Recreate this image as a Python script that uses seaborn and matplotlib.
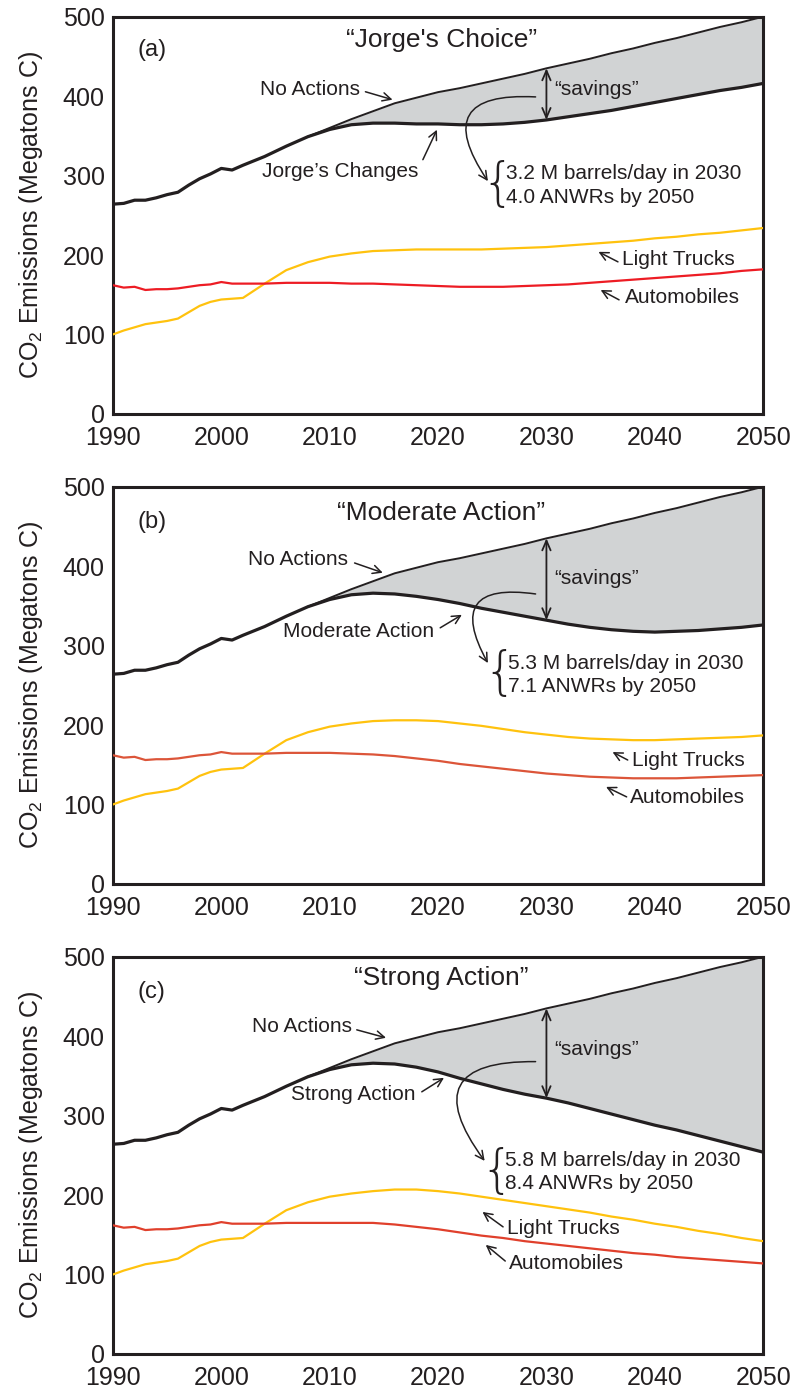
import numpy as np
import pandas as pd
import matplotlib
matplotlib.use("Agg")
import matplotlib.pyplot as plt
import seaborn as sns

# shared history (1990-2008)
HIST_YEARS = [1990, 1991, 1992, 1993, 1994, 1995, 1996, 1997, 1998, 1999,
              2000, 2001, 2002, 2004, 2006, 2008]
HIST_TOTAL = [264, 265, 269, 269, 272, 276, 279, 288, 296, 302,
              309, 307, 313, 324, 337, 349]
HIST_TRUCKS = [100, 105, 109, 113, 115, 117, 120, 128, 136, 141,
               144, 145, 146, 164, 181, 191]
HIST_AUTOS = [162, 159, 160, 156, 157, 157, 158, 160, 162, 163,
              166, 164, 164, 164, 165, 165]

# projections (2010-2050)
PROJ_YEARS = [2010, 2012, 2014, 2016, 2018, 2020, 2022, 2024, 2026, 2028, 2030,
              2032, 2034, 2036, 2038, 2040, 2042, 2044, 2046, 2048, 2050]
NO_ACTIONS = [360, 371, 381, 391, 398, 405, 410, 416, 422, 428, 435,
              441, 447, 454, 460, 467, 473, 480, 487, 493, 500]
JORGE = [358, 364, 366, 366, 365, 365, 364, 364, 365, 367, 370,
         374, 378, 382, 387, 392, 397, 402, 407, 411, 416]
MODERATE = [358, 364, 366, 365, 362, 358, 353, 347, 342, 337, 332,
            327, 323, 320, 318, 317, 318, 319, 321, 323, 326]
STRONG = [358, 364, 366, 365, 361, 355, 347, 340, 333, 327, 322,
          316, 309, 302, 295, 288, 282, 275, 268, 261, 254]
TRUCKS_A = [198, 202, 205, 206, 207, 207, 207, 207, 208, 209, 210,
            212, 214, 216, 218, 221, 223, 226, 228, 231, 234]
TRUCKS_B = [198, 202, 205, 206, 206, 205, 202, 199, 195, 191, 188,
            185, 183, 182, 181, 181, 182, 183, 184, 185, 187]
TRUCKS_C = [198, 202, 205, 207, 207, 205, 202, 198, 194, 190, 186,
            182, 178, 173, 169, 164, 160, 155, 151, 146, 142]
AUTOS_A = [165, 164, 164, 163, 162, 161, 160, 160, 160, 161, 162,
           163, 165, 167, 169, 171, 173, 175, 177, 180, 182]
AUTOS_B = [165, 164, 163, 161, 158, 155, 151, 148, 145, 142, 139,
           137, 135, 134, 133, 133, 133, 134, 135, 136, 137]
AUTOS_C = [165, 165, 165, 163, 160, 157, 153, 149, 146, 142, 139,
           136, 133, 130, 127, 125, 122, 120, 118, 116, 114]

INK = "#231f20"
YELLOW = "#ffc20e"
GRAY = "#d1d3d4"

sns.set_style("white")
plt.rcParams["font.family"] = ["Liberation Sans", "DejaVu Sans"]
plt.rcParams["mathtext.default"] = "regular"

ANNOT = dict(fontsize=15, color=INK)
ARROW = dict(arrowstyle="->,head_length=0.6,head_width=0.3", lw=1.1,
             color=INK, shrinkA=0, shrinkB=0)


def series(hist, proj):
    return pd.DataFrame({"year": HIST_YEARS + PROJ_YEARS, "value": hist + proj})


def label(ax, text, txt_pos, arrow, ha="left"):
    ax.text(txt_pos[0], txt_pos[1], text, ha=ha, va="center", **ANNOT)
    ax.annotate("", xy=arrow[1], xytext=arrow[0], arrowprops=ARROW)


def draw_panel(ax, tag, title, scenario, name, trucks, autos, red, pos):
    years = np.array(HIST_YEARS[-1:] + PROJ_YEARS)
    upper = np.array(HIST_TOTAL[-1:] + NO_ACTIONS)
    lower = np.array(HIST_TOTAL[-1:] + scenario)
    ax.fill_between(years, lower, upper, color=GRAY, lw=0, zorder=1)

    sns.lineplot(data=series(HIST_TRUCKS, trucks), x="year", y="value",
                 ax=ax, color=YELLOW, lw=1.6, zorder=3)
    sns.lineplot(data=series(HIST_AUTOS, autos), x="year", y="value",
                 ax=ax, color=red, lw=1.6, zorder=3)
    sns.lineplot(x=years, y=upper, ax=ax, color=INK, lw=1.4, zorder=4)
    sns.lineplot(data=series(HIST_TOTAL, scenario), x="year", y="value",
                 ax=ax, color=INK, lw=2.3, zorder=5)

    ax.set_xlim(1990, 2050)
    ax.set_ylim(0, 500)
    ax.set_xticks(range(1990, 2051, 10))
    ax.set_xticks(range(1995, 2050, 10), minor=True)
    ax.set_yticks(range(0, 501, 100))
    ax.set_yticks(range(50, 500, 100), minor=True)
    ax.tick_params(which="both", direction="in", colors=INK,
                   labelsize=18, top=False, right=False, width=2)
    ax.tick_params(which="major", length=11.5)
    ax.tick_params(which="minor", length=7.5)
    ax.tick_params(axis="x", pad=9)
    ax.tick_params(axis="y", pad=6)
    for sp in ax.spines.values():
        sp.set_linewidth(2.2)
        sp.set_color(INK)
    ax.set_xlabel("")
    ax.set_ylabel("CO$_2$ Emissions (Megatons C)", fontsize=18,
                  color=INK, labelpad=13)

    ax.text(1993.6, pos["tag"], tag, ha="center", va="center", fontsize=17,
            color=INK)
    ax.text(2020.3, pos["title"], title, ha="center", va="center",
            fontsize=19, color=INK)
    label(ax, "No Actions", pos["na"], pos["na_arrow"])
    label(ax, name, pos["sc"], pos["sc_arrow"])

    i30 = PROJ_YEARS.index(2030)
    ax.annotate("", xy=(2030, scenario[i30]), xytext=(2030, NO_ACTIONS[i30]),
                arrowprops=dict(arrowstyle="<->,head_length=0.7,head_width=0.3",
                                lw=1.3, color=INK, shrinkA=0, shrinkB=0),
                zorder=6)
    ax.text(2030.7, pos["sav"], "\u201csavings\u201d", ha="left", va="center",
            **ANNOT)
    ax.annotate("", xy=pos["curve_end"], xytext=pos["curve_start"],
                arrowprops=dict(ARROW, connectionstyle="arc3,rad=1.0"),
                zorder=6)
    bx, by = pos["brace"]
    ax.text(bx, by, "{", ha="center", va="center", fontsize=37, color=INK,
            family="DejaVu Sans", fontweight="light")
    ax.text(bx + 0.8, pos["lines"][0], pos["txt1"], ha="left", va="center",
            **ANNOT)
    ax.text(bx + 0.8, pos["lines"][1], pos["txt2"], ha="left", va="center",
            **ANNOT)
    label(ax, "Light Trucks", pos["lt"], pos["lt_arrow"])
    label(ax, "Automobiles", pos["au"], pos["au_arrow"])


fig = plt.figure(figsize=(7.95, 13.89), dpi=100)
ax_a = fig.add_axes([0.142, 0.702, 0.818, 0.286])
ax_b = fig.add_axes([0.142, 0.3636, 0.818, 0.286])
ax_c = fig.add_axes([0.142, 0.0252, 0.818, 0.286])

draw_panel(ax_a, "(a)", "\u201cJorge's Choice\u201d", JORGE, "Jorge\u2019s Changes",
           TRUCKS_A, AUTOS_A, "#ed1c24",
           dict(tag=458, title=471,
                na=(2003.6, 408), na_arrow=((2013.3, 405.5), (2015.8, 395.5)),
                sc=(2003.75, 305), sc_arrow=((2018.6, 320), (2019.9, 357.7)),
                sav=408, curve_start=(2029.0, 399), curve_end=(2024.6, 293),
                brace=(2025.5, 289), lines=(303, 273),
                txt1="3.2 M barrels/day in 2030", txt2="4.0 ANWRs by 2050",
                lt=(2037.0, 194), lt_arrow=((2036.6, 191.4), (2034.8, 204)),
                au=(2037.2, 146), au_arrow=((2036.7, 143.6), (2035.0, 156))))

draw_panel(ax_b, "(b)", "\u201cModerate Action\u201d", MODERATE, "Moderate Action",
           TRUCKS_B, AUTOS_B, "#dc5539",
           dict(tag=456, title=467,
                na=(2002.5, 408), na_arrow=((2012.3, 404), (2014.9, 391.7)),
                sc=(2005.7, 317.4), sc_arrow=((2020.2, 322.4), (2022.2, 338.8)),
                sav=385, curve_start=(2029.0, 365), curve_end=(2024.6, 278),
                brace=(2025.7, 264), lines=(278, 248),
                txt1="5.3 M barrels/day in 2030", txt2="7.1 ANWRs by 2050",
                lt=(2037.9, 156), lt_arrow=((2037.5, 156), (2036.1, 166)),
                au=(2037.7, 108.3), au_arrow=((2037.4, 109.6), (2035.5, 122.2))))

draw_panel(ax_c, "(c)", "\u201cStrong Action\u201d", STRONG, "Strong Action",
           TRUCKS_C, AUTOS_C, "#e0402c",
           dict(tag=456, title=473,
                na=(2002.8, 411.8), na_arrow=((2012.5, 408), (2015.2, 398)),
                sc=(2006.4, 326.2), sc_arrow=((2018.5, 330), (2020.55, 347.6)),
                sav=383, curve_start=(2029.0, 368), curve_end=(2024.3, 243),
                brace=(2025.4, 230), lines=(244, 214),
                txt1="5.8 M barrels/day in 2030", txt2="8.4 ANWRs by 2050",
                lt=(2026.4, 157.4), lt_arrow=((2026.0, 160), (2024.1, 178.8)),
                au=(2026.5, 113.4), au_arrow=((2026.2, 117), (2024.4, 137.3))))

fig.savefig("out.png", dpi=100)
